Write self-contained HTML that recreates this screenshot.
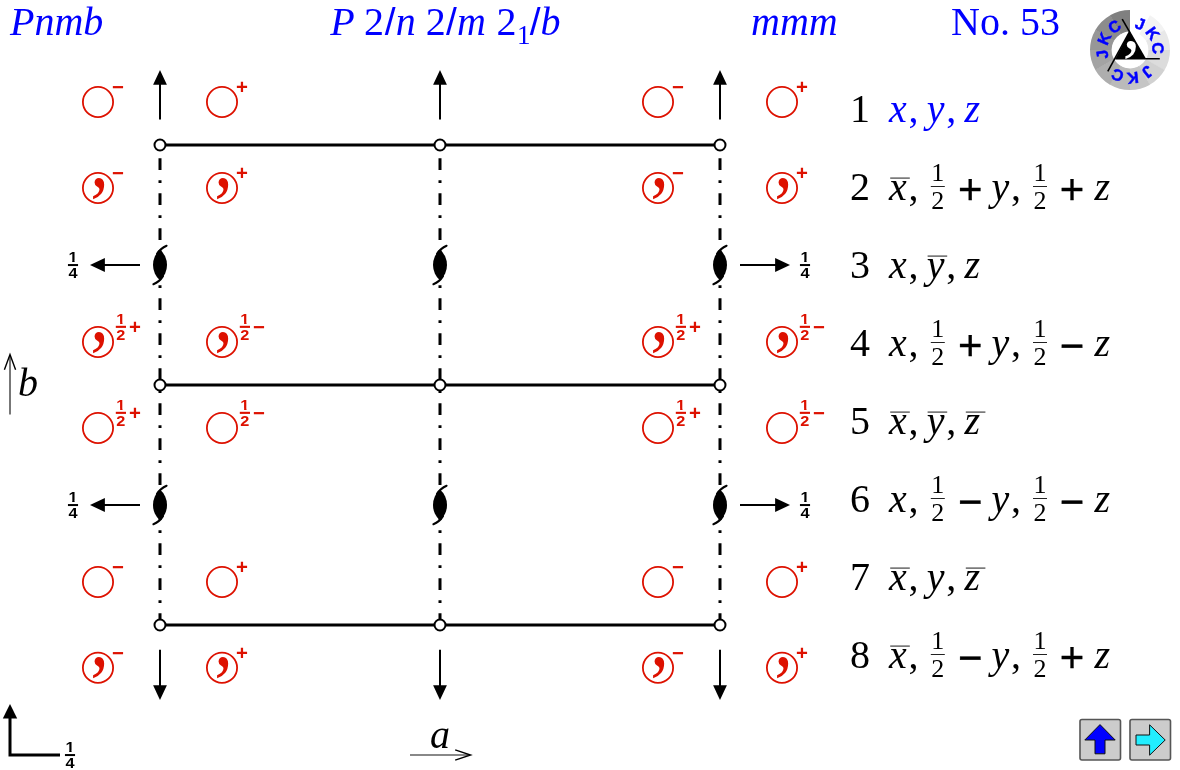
<!DOCTYPE html>
<html lang="en">
<head>
<meta charset="utf-8">
<title>Pnmb No. 53</title>
<style>
html,body{margin:0;padding:0;background:#fff;}
body{width:1180px;height:770px;overflow:hidden;position:relative;}
svg{position:absolute;left:0;top:0;display:block;}
.ti{font-family:"Liberation Serif",serif;font-style:italic;font-size:40px;}
.tr{font-family:"Liberation Serif",serif;font-style:normal;font-size:40px;}
.sl{font-family:"Liberation Sans",sans-serif;font-style:normal;font-size:39px;}
.fr{font-family:"Liberation Serif",serif;font-style:normal;font-size:26px;text-anchor:middle;}
.op{font-family:"Liberation Sans",sans-serif;font-size:42px;text-anchor:middle;stroke:#000;stroke-width:0.3px;}
.sb{font-family:"Liberation Sans",sans-serif;font-weight:bold;font-size:14.3px;text-anchor:middle;}
.rs{font-family:"Liberation Sans",sans-serif;font-weight:bold;font-size:20.4px;text-anchor:middle;fill:#d10;}
.cm{font-family:"Liberation Serif",serif;font-weight:normal;font-size:80px;text-anchor:middle;fill:#d10;}
.lg{font-family:"Liberation Sans",sans-serif;font-weight:bold;font-size:16px;text-anchor:middle;fill:#00f;stroke:#00f;stroke-width:0.5px;}
.blue{fill:#00f;}
</style>
</head>
<body>
<svg width="1180" height="770" viewBox="0 0 1180 770">
<rect width="1180" height="770" fill="#fff"/>

<g class="blue">
<text class="ti" x="10" y="35">Pnmb</text>
<text class="ti" x="330.3" y="35">P <tspan class="tr">2</tspan><tspan class="sl" dx="0.8">/</tspan>n <tspan class="tr">2</tspan><tspan class="sl" dx="0.3">/</tspan><tspan dx="0.3">m</tspan> <tspan class="tr" dx="0.6">2</tspan><tspan class="tr" style="font-size:27px" dx="0.5" dy="8.9">1</tspan><tspan class="sl" dx="-0.9" dy="-8.9">/</tspan>b</text>
<text class="ti" x="751" y="35">mmm</text>
<text class="tr" x="951" y="35">No. 53</text>
</g>
<g stroke="#000" stroke-width="3" fill="none">
<line x1="160" y1="145" x2="720" y2="145"/>
<line x1="160" y1="385" x2="720" y2="385"/>
<line x1="160" y1="625" x2="720" y2="625"/>
<line x1="160" y1="145.2" x2="160" y2="625" stroke-dasharray="2.8 10.2 11.7 10.3"/>
<line x1="440" y1="145.2" x2="440" y2="625" stroke-dasharray="2.8 10.2 11.7 10.3"/>
<line x1="720" y1="145.2" x2="720" y2="625" stroke-dasharray="2.8 10.2 11.7 10.3"/>
</g>
<g stroke="#000" stroke-width="2" fill="#fff">
<circle cx="160" cy="145" r="5.5"/>
<circle cx="440" cy="145" r="5.5"/>
<circle cx="720" cy="145" r="5.5"/>
<circle cx="160" cy="385" r="5.5"/>
<circle cx="440" cy="385" r="5.5"/>
<circle cx="720" cy="385" r="5.5"/>
<circle cx="160" cy="625" r="5.5"/>
<circle cx="440" cy="625" r="5.5"/>
<circle cx="720" cy="625" r="5.5"/>
</g>
<g stroke="#000" stroke-width="2" fill="#000">
<line x1="160" y1="119.4" x2="160" y2="84" /><path stroke="none" d="M160 70 L166.9 84.7 L153.1 84.7 Z"/>
<line x1="160" y1="649.7" x2="160" y2="686" /><path stroke="none" d="M160 700 L166.9 685.3 L153.1 685.3 Z"/>
<line x1="440" y1="119.4" x2="440" y2="84" /><path stroke="none" d="M440 70 L446.9 84.7 L433.1 84.7 Z"/>
<line x1="440" y1="649.7" x2="440" y2="686" /><path stroke="none" d="M440 700 L446.9 685.3 L433.1 685.3 Z"/>
<line x1="720" y1="119.4" x2="720" y2="84" /><path stroke="none" d="M720 70 L726.9 84.7 L713.1 84.7 Z"/>
<line x1="720" y1="649.7" x2="720" y2="686" /><path stroke="none" d="M720 700 L726.9 685.3 L713.1 685.3 Z"/>
</g>
<path fill="#000" d="M160 249.6 A20.44 20.44 0 0 1 160 280.4 A20.44 20.44 0 0 1 160 249.6 Z"/><path fill="none" stroke="#000" stroke-width="2" stroke-linecap="round" d="M157 253.90 A20.44 20.44 0 0 1 166.6 245.74"/><path fill="none" stroke="#000" stroke-width="2" stroke-linecap="round" d="M163 276.10 A20.44 20.44 0 0 1 153.4 284.26"/>
<path fill="#000" d="M440 249.6 A20.44 20.44 0 0 1 440 280.4 A20.44 20.44 0 0 1 440 249.6 Z"/><path fill="none" stroke="#000" stroke-width="2" stroke-linecap="round" d="M437 253.90 A20.44 20.44 0 0 1 446.6 245.74"/><path fill="none" stroke="#000" stroke-width="2" stroke-linecap="round" d="M443 276.10 A20.44 20.44 0 0 1 433.4 284.26"/>
<path fill="#000" d="M720 249.6 A20.44 20.44 0 0 1 720 280.4 A20.44 20.44 0 0 1 720 249.6 Z"/><path fill="none" stroke="#000" stroke-width="2" stroke-linecap="round" d="M717 253.90 A20.44 20.44 0 0 1 726.6 245.74"/><path fill="none" stroke="#000" stroke-width="2" stroke-linecap="round" d="M723 276.10 A20.44 20.44 0 0 1 713.4 284.26"/>
<path fill="#000" d="M160 489.6 A20.44 20.44 0 0 1 160 520.4 A20.44 20.44 0 0 1 160 489.6 Z"/><path fill="none" stroke="#000" stroke-width="2" stroke-linecap="round" d="M157 493.90 A20.44 20.44 0 0 1 166.6 485.74"/><path fill="none" stroke="#000" stroke-width="2" stroke-linecap="round" d="M163 516.10 A20.44 20.44 0 0 1 153.4 524.26"/>
<path fill="#000" d="M440 489.6 A20.44 20.44 0 0 1 440 520.4 A20.44 20.44 0 0 1 440 489.6 Z"/><path fill="none" stroke="#000" stroke-width="2" stroke-linecap="round" d="M437 493.90 A20.44 20.44 0 0 1 446.6 485.74"/><path fill="none" stroke="#000" stroke-width="2" stroke-linecap="round" d="M443 516.10 A20.44 20.44 0 0 1 433.4 524.26"/>
<path fill="#000" d="M720 489.6 A20.44 20.44 0 0 1 720 520.4 A20.44 20.44 0 0 1 720 489.6 Z"/><path fill="none" stroke="#000" stroke-width="2" stroke-linecap="round" d="M717 493.90 A20.44 20.44 0 0 1 726.6 485.74"/><path fill="none" stroke="#000" stroke-width="2" stroke-linecap="round" d="M723 516.10 A20.44 20.44 0 0 1 713.4 524.26"/>
<line x1="104" y1="265" x2="140" y2="265" stroke="#000" stroke-width="2"/><path d="M90 265 L104.9 258 L104.9 272 Z"/>
<text class="sb" transform="translate(73,262) scale(1.14,1)">1</text><path fill="#fff" d="M68.80 260.10h3.4v2.6h-3.4z M74.60 260.10h3.4v2.6h-3.4z"/><rect x="67.95" y="264.05" width="10.1" height="2" fill="#000"/><text class="sb" transform="translate(73,278) scale(1.14,1)">4</text>
<line x1="740" y1="265" x2="776" y2="265" stroke="#000" stroke-width="2"/><path d="M790 265 L775.1 258 L775.1 272 Z"/>
<text class="sb" transform="translate(805,262) scale(1.14,1)">1</text><path fill="#fff" d="M800.80 260.10h3.4v2.6h-3.4z M806.60 260.10h3.4v2.6h-3.4z"/><rect x="799.95" y="264.05" width="10.1" height="2" fill="#000"/><text class="sb" transform="translate(805,278) scale(1.14,1)">4</text>
<line x1="104" y1="505" x2="140" y2="505" stroke="#000" stroke-width="2"/><path d="M90 505 L104.9 498 L104.9 512 Z"/>
<text class="sb" transform="translate(73,502) scale(1.14,1)">1</text><path fill="#fff" d="M68.80 500.10h3.4v2.6h-3.4z M74.60 500.10h3.4v2.6h-3.4z"/><rect x="67.95" y="504.05" width="10.1" height="2" fill="#000"/><text class="sb" transform="translate(73,518) scale(1.14,1)">4</text>
<line x1="740" y1="505" x2="776" y2="505" stroke="#000" stroke-width="2"/><path d="M790 505 L775.1 498 L775.1 512 Z"/>
<text class="sb" transform="translate(805,502) scale(1.14,1)">1</text><path fill="#fff" d="M800.80 500.10h3.4v2.6h-3.4z M806.60 500.10h3.4v2.6h-3.4z"/><rect x="799.95" y="504.05" width="10.1" height="2" fill="#000"/><text class="sb" transform="translate(805,518) scale(1.14,1)">4</text>
<path d="M10 718 L10 755 L60 755" fill="none" stroke="#000" stroke-width="3"/><path d="M10 704 L17.2 718.6 L2.8 718.6 Z"/>
<text class="sb" transform="translate(70,752) scale(1.14,1)">1</text><path fill="#fff" d="M65.80 750.10h3.4v2.6h-3.4z M71.60 750.10h3.4v2.6h-3.4z"/><rect x="64.95" y="754.05" width="10.1" height="2" fill="#000"/><text class="sb" transform="translate(70,768) scale(1.14,1)">4</text>
<circle cx="98" cy="102" r="15.1" fill="none" stroke="#d10" stroke-width="1.8"/><text class="rs" x="118" y="93.8">−</text>
<circle cx="222" cy="102" r="15.1" fill="none" stroke="#d10" stroke-width="1.8"/><text class="rs" x="242" y="93.8">+</text>
<circle cx="658" cy="102" r="15.1" fill="none" stroke="#d10" stroke-width="1.8"/><text class="rs" x="678" y="93.8">−</text>
<circle cx="782" cy="102" r="15.1" fill="none" stroke="#d10" stroke-width="1.8"/><text class="rs" x="802" y="93.8">+</text>
<circle cx="98" cy="188" r="15.1" fill="none" stroke="#d10" stroke-width="1.8"/><text class="cm" transform="translate(99.5,186.5) scale(0.93,1.04)">,</text><text class="rs" x="118" y="179.8">−</text>
<circle cx="222" cy="188" r="15.1" fill="none" stroke="#d10" stroke-width="1.8"/><text class="cm" transform="translate(223.5,186.5) scale(0.93,1.04)">,</text><text class="rs" x="242" y="179.8">+</text>
<circle cx="658" cy="188" r="15.1" fill="none" stroke="#d10" stroke-width="1.8"/><text class="cm" transform="translate(659.5,186.5) scale(0.93,1.04)">,</text><text class="rs" x="678" y="179.8">−</text>
<circle cx="782" cy="188" r="15.1" fill="none" stroke="#d10" stroke-width="1.8"/><text class="cm" transform="translate(783.5,186.5) scale(0.93,1.04)">,</text><text class="rs" x="802" y="179.8">+</text>
<circle cx="98" cy="342" r="15.1" fill="none" stroke="#d10" stroke-width="1.8"/><text class="cm" transform="translate(99.5,340.5) scale(0.93,1.04)">,</text><text class="sb" style="fill:#d10" transform="translate(120.9,324) scale(1.14,1)">1</text><path fill="#fff" d="M116.70 322.10h3.4v2.6h-3.4z M122.50 322.10h3.4v2.6h-3.4z"/><rect x="115.80000000000001" y="325.8" width="10.2" height="2.1" fill="#d10"/><text class="sb" style="fill:#d10" transform="translate(120.9,339.8) scale(1.14,1)">2</text><text class="rs" x="135" y="333.8">+</text>
<circle cx="222" cy="342" r="15.1" fill="none" stroke="#d10" stroke-width="1.8"/><text class="cm" transform="translate(223.5,340.5) scale(0.93,1.04)">,</text><text class="sb" style="fill:#d10" transform="translate(244.9,324) scale(1.14,1)">1</text><path fill="#fff" d="M240.70 322.10h3.4v2.6h-3.4z M246.50 322.10h3.4v2.6h-3.4z"/><rect x="239.8" y="325.8" width="10.2" height="2.1" fill="#d10"/><text class="sb" style="fill:#d10" transform="translate(244.9,339.8) scale(1.14,1)">2</text><text class="rs" x="259" y="333.8">−</text>
<circle cx="658" cy="342" r="15.1" fill="none" stroke="#d10" stroke-width="1.8"/><text class="cm" transform="translate(659.5,340.5) scale(0.93,1.04)">,</text><text class="sb" style="fill:#d10" transform="translate(680.9,324) scale(1.14,1)">1</text><path fill="#fff" d="M676.70 322.10h3.4v2.6h-3.4z M682.50 322.10h3.4v2.6h-3.4z"/><rect x="675.8" y="325.8" width="10.2" height="2.1" fill="#d10"/><text class="sb" style="fill:#d10" transform="translate(680.9,339.8) scale(1.14,1)">2</text><text class="rs" x="695" y="333.8">+</text>
<circle cx="782" cy="342" r="15.1" fill="none" stroke="#d10" stroke-width="1.8"/><text class="cm" transform="translate(783.5,340.5) scale(0.93,1.04)">,</text><text class="sb" style="fill:#d10" transform="translate(804.9,324) scale(1.14,1)">1</text><path fill="#fff" d="M800.70 322.10h3.4v2.6h-3.4z M806.50 322.10h3.4v2.6h-3.4z"/><rect x="799.8" y="325.8" width="10.2" height="2.1" fill="#d10"/><text class="sb" style="fill:#d10" transform="translate(804.9,339.8) scale(1.14,1)">2</text><text class="rs" x="819" y="333.8">−</text>
<circle cx="98" cy="428" r="15.1" fill="none" stroke="#d10" stroke-width="1.8"/><text class="sb" style="fill:#d10" transform="translate(120.9,410) scale(1.14,1)">1</text><path fill="#fff" d="M116.70 408.10h3.4v2.6h-3.4z M122.50 408.10h3.4v2.6h-3.4z"/><rect x="115.80000000000001" y="411.8" width="10.2" height="2.1" fill="#d10"/><text class="sb" style="fill:#d10" transform="translate(120.9,425.8) scale(1.14,1)">2</text><text class="rs" x="135" y="419.8">+</text>
<circle cx="222" cy="428" r="15.1" fill="none" stroke="#d10" stroke-width="1.8"/><text class="sb" style="fill:#d10" transform="translate(244.9,410) scale(1.14,1)">1</text><path fill="#fff" d="M240.70 408.10h3.4v2.6h-3.4z M246.50 408.10h3.4v2.6h-3.4z"/><rect x="239.8" y="411.8" width="10.2" height="2.1" fill="#d10"/><text class="sb" style="fill:#d10" transform="translate(244.9,425.8) scale(1.14,1)">2</text><text class="rs" x="259" y="419.8">−</text>
<circle cx="658" cy="428" r="15.1" fill="none" stroke="#d10" stroke-width="1.8"/><text class="sb" style="fill:#d10" transform="translate(680.9,410) scale(1.14,1)">1</text><path fill="#fff" d="M676.70 408.10h3.4v2.6h-3.4z M682.50 408.10h3.4v2.6h-3.4z"/><rect x="675.8" y="411.8" width="10.2" height="2.1" fill="#d10"/><text class="sb" style="fill:#d10" transform="translate(680.9,425.8) scale(1.14,1)">2</text><text class="rs" x="695" y="419.8">+</text>
<circle cx="782" cy="428" r="15.1" fill="none" stroke="#d10" stroke-width="1.8"/><text class="sb" style="fill:#d10" transform="translate(804.9,410) scale(1.14,1)">1</text><path fill="#fff" d="M800.70 408.10h3.4v2.6h-3.4z M806.50 408.10h3.4v2.6h-3.4z"/><rect x="799.8" y="411.8" width="10.2" height="2.1" fill="#d10"/><text class="sb" style="fill:#d10" transform="translate(804.9,425.8) scale(1.14,1)">2</text><text class="rs" x="819" y="419.8">−</text>
<circle cx="98" cy="582" r="15.1" fill="none" stroke="#d10" stroke-width="1.8"/><text class="rs" x="118" y="573.8">−</text>
<circle cx="222" cy="582" r="15.1" fill="none" stroke="#d10" stroke-width="1.8"/><text class="rs" x="242" y="573.8">+</text>
<circle cx="658" cy="582" r="15.1" fill="none" stroke="#d10" stroke-width="1.8"/><text class="rs" x="678" y="573.8">−</text>
<circle cx="782" cy="582" r="15.1" fill="none" stroke="#d10" stroke-width="1.8"/><text class="rs" x="802" y="573.8">+</text>
<circle cx="98" cy="667.8" r="15.1" fill="none" stroke="#d10" stroke-width="1.8"/><text class="cm" transform="translate(99.5,666.3) scale(0.93,1.04)">,</text><text class="rs" x="118" y="659.5999999999999">−</text>
<circle cx="222" cy="667.8" r="15.1" fill="none" stroke="#d10" stroke-width="1.8"/><text class="cm" transform="translate(223.5,666.3) scale(0.93,1.04)">,</text><text class="rs" x="242" y="659.5999999999999">+</text>
<circle cx="658" cy="667.8" r="15.1" fill="none" stroke="#d10" stroke-width="1.8"/><text class="cm" transform="translate(659.5,666.3) scale(0.93,1.04)">,</text><text class="rs" x="678" y="659.5999999999999">−</text>
<circle cx="782" cy="667.8" r="15.1" fill="none" stroke="#d10" stroke-width="1.8"/><text class="cm" transform="translate(783.5,666.3) scale(0.93,1.04)">,</text><text class="rs" x="802" y="659.5999999999999">+</text>
<line x1="10" y1="355" x2="10" y2="414.6" stroke="#555" stroke-width="1.6"/><path d="M4.4 369.8 L10 354.5 L15.6 369.8" fill="none" stroke="#000" stroke-width="1.4"/>
<text class="ti" x="18" y="395.6">b</text>
<line x1="410" y1="755" x2="469.5" y2="755" stroke="#606060" stroke-width="1.7"/><path d="M455.2 749.8 L470.6 755 L455.2 760.2" fill="none" stroke="#000" stroke-width="1.4"/>
<text class="ti" x="430" y="748">a</text>
<text class="tr" x="850" y="122">1</text>
<g class="blue">
<text class="ti" x="889" y="122">x<tspan class="tr" dx="1.8">,</tspan><tspan dx="-1.8"> y</tspan><tspan class="tr" dx="1.8">,</tspan><tspan dx="-1.8"> z</tspan></text>
</g>
<text class="tr" x="850" y="200">2</text>
<g>
<text class="ti" x="889" y="200">x<tspan class="tr" dx="1.8">,</tspan></text>
<rect x="890.2" y="177.45" width="19.6" height="1.3" fill="#505050"/>
<text class="fr" x="937.8" y="181.2">1</text><rect x="930.8" y="186" width="14" height="1" fill="#222"/><text class="fr" x="937.8" y="209">2</text>
<text class="op" x="970.2" y="203.7">+</text>
<text class="ti" x="991.5" y="200">y<tspan class="tr" dx="1.8">,</tspan></text>
<text class="fr" x="1040" y="181.2">1</text><rect x="1033" y="186" width="14" height="1" fill="#222"/><text class="fr" x="1040" y="209">2</text>
<text class="op" x="1072" y="203.7">+</text>
<text class="ti" x="1094.5" y="200">z</text>
</g>
<text class="tr" x="850" y="278">3</text>
<g>
<text class="ti" x="889" y="278">x<tspan class="tr" dx="1.8">,</tspan><tspan dx="-1.8"> y</tspan><tspan class="tr" dx="1.8">,</tspan><tspan dx="-1.8"> z</tspan></text>
<rect x="927.6" y="255.45000000000002" width="19.6" height="1.3" fill="#505050"/>
</g>
<text class="tr" x="850" y="356">4</text>
<g>
<text class="ti" x="889" y="356">x<tspan class="tr" dx="1.8">,</tspan></text>
<text class="fr" x="937.8" y="337.2">1</text><rect x="930.8" y="342" width="14" height="1" fill="#222"/><text class="fr" x="937.8" y="365">2</text>
<text class="op" x="970.2" y="359.7">+</text>
<text class="ti" x="991.5" y="356">y<tspan class="tr" dx="1.8">,</tspan></text>
<text class="fr" x="1040" y="337.2">1</text><rect x="1033" y="342" width="14" height="1" fill="#222"/><text class="fr" x="1040" y="365">2</text>
<text class="op" x="1072" y="359.7">−</text>
<text class="ti" x="1094.5" y="356">z</text>
</g>
<text class="tr" x="850" y="434">5</text>
<g>
<text class="ti" x="889" y="434">x<tspan class="tr" dx="1.8">,</tspan><tspan dx="-1.8"> y</tspan><tspan class="tr" dx="1.8">,</tspan><tspan dx="-1.8"> z</tspan></text>
<rect x="890.2" y="411.45000000000005" width="19.6" height="1.3" fill="#505050"/>
<rect x="927.6" y="411.45000000000005" width="19.6" height="1.3" fill="#505050"/>
<rect x="965.8" y="411.45000000000005" width="19.6" height="1.3" fill="#505050"/>
</g>
<text class="tr" x="850" y="512">6</text>
<g>
<text class="ti" x="889" y="512">x<tspan class="tr" dx="1.8">,</tspan></text>
<text class="fr" x="937.8" y="493.2">1</text><rect x="930.8" y="498" width="14" height="1" fill="#222"/><text class="fr" x="937.8" y="521">2</text>
<text class="op" x="970.2" y="515.7">−</text>
<text class="ti" x="991.5" y="512">y<tspan class="tr" dx="1.8">,</tspan></text>
<text class="fr" x="1040" y="493.2">1</text><rect x="1033" y="498" width="14" height="1" fill="#222"/><text class="fr" x="1040" y="521">2</text>
<text class="op" x="1072" y="515.7">−</text>
<text class="ti" x="1094.5" y="512">z</text>
</g>
<text class="tr" x="850" y="590">7</text>
<g>
<text class="ti" x="889" y="590">x<tspan class="tr" dx="1.8">,</tspan><tspan dx="-1.8"> y</tspan><tspan class="tr" dx="1.8">,</tspan><tspan dx="-1.8"> z</tspan></text>
<rect x="890.2" y="567.45" width="19.6" height="1.3" fill="#505050"/>
<rect x="965.8" y="567.45" width="19.6" height="1.3" fill="#505050"/>
</g>
<text class="tr" x="850" y="668">8</text>
<g>
<text class="ti" x="889" y="668">x<tspan class="tr" dx="1.8">,</tspan></text>
<rect x="890.2" y="645.45" width="19.6" height="1.3" fill="#505050"/>
<text class="fr" x="937.8" y="649.2">1</text><rect x="930.8" y="654" width="14" height="1" fill="#222"/><text class="fr" x="937.8" y="677">2</text>
<text class="op" x="970.2" y="671.7">−</text>
<text class="ti" x="991.5" y="668">y<tspan class="tr" dx="1.8">,</tspan></text>
<text class="fr" x="1040" y="649.2">1</text><rect x="1033" y="654" width="14" height="1" fill="#222"/><text class="fr" x="1040" y="677">2</text>
<text class="op" x="1072" y="671.7">+</text>
<text class="ti" x="1094.5" y="668">z</text>
</g>
<g>
<path fill="rgb(255,255,255)" d="M1130.00 10.00 A40 40 0 0 1 1150.35 15.56 L1139.16 34.50 A18 18 0 0 0 1130.00 32.00 Z"/>
<path fill="rgb(243,243,243)" d="M1150.00 15.36 A40 40 0 0 1 1164.84 30.35 L1145.68 41.16 A18 18 0 0 0 1139.00 34.41 Z"/>
<path fill="rgb(232,232,232)" d="M1164.64 30.00 A40 40 0 0 1 1170.00 50.40 L1148.00 50.18 A18 18 0 0 0 1145.59 41.00 Z"/>
<path fill="rgb(220,220,220)" d="M1170.00 50.00 A40 40 0 0 1 1164.44 70.35 L1145.50 59.16 A18 18 0 0 0 1148.00 50.00 Z"/>
<path fill="rgb(209,209,209)" d="M1164.64 70.00 A40 40 0 0 1 1149.65 84.84 L1138.84 65.68 A18 18 0 0 0 1145.59 59.00 Z"/>
<path fill="rgb(197,197,197)" d="M1150.00 84.64 A40 40 0 0 1 1129.60 90.00 L1129.82 68.00 A18 18 0 0 0 1139.00 65.59 Z"/>
<path fill="rgb(186,186,186)" d="M1130.00 90.00 A40 40 0 0 1 1109.65 84.44 L1120.84 65.50 A18 18 0 0 0 1130.00 68.00 Z"/>
<path fill="rgb(174,174,174)" d="M1110.00 84.64 A40 40 0 0 1 1095.16 69.65 L1114.32 58.84 A18 18 0 0 0 1121.00 65.59 Z"/>
<path fill="rgb(163,163,163)" d="M1095.36 70.00 A40 40 0 0 1 1090.00 49.60 L1112.00 49.82 A18 18 0 0 0 1114.41 59.00 Z"/>
<path fill="rgb(151,151,151)" d="M1090.00 50.00 A40 40 0 0 1 1095.56 29.65 L1114.50 40.84 A18 18 0 0 0 1112.00 50.00 Z"/>
<path fill="rgb(140,140,140)" d="M1095.36 30.00 A40 40 0 0 1 1110.35 15.16 L1121.16 34.32 A18 18 0 0 0 1114.41 41.00 Z"/>
<path fill="rgb(128,128,128)" d="M1110.00 15.36 A40 40 0 0 1 1130.00 10.00 L1130.00 32.00 A18 18 0 0 0 1121.00 34.41 Z"/>
</g>
<circle cx="1130" cy="50" r="18.4" fill="#fff"/>
<path d="M1129.6 31.6 L1145.2 58.8 L1115.4 58.8 Z" fill="#000"/>
<g stroke="#000" stroke-width="1.6" stroke-linecap="butt"><line x1="1115.4" y1="58.8" x2="1159.8" y2="58.8"/><line x1="1145.2" y1="58.8" x2="1122.2" y2="19.2"/><line x1="1129.6" y1="31.6" x2="1107.8" y2="71.4"/></g>
<text x="1131.5" y="47.8" style="font-family:'Liberation Serif',serif;font-size:70px;fill:#fff;text-anchor:middle">,</text>
<text class="lg" transform="translate(1130,50) rotate(21)" x="0" y="-22.5">J</text>
<text class="lg" transform="translate(1130,50) rotate(54)" x="0" y="-22.5">K</text>
<text class="lg" transform="translate(1130,50) rotate(86)" x="0" y="-22.5">C</text>
<text class="lg" transform="translate(1130,50) rotate(141)" x="0" y="-22.5">J</text>
<text class="lg" transform="translate(1130,50) rotate(174)" x="0" y="-22.5">K</text>
<text class="lg" transform="translate(1130,50) rotate(206)" x="0" y="-22.5">C</text>
<text class="lg" transform="translate(1130,50) rotate(261)" x="0" y="-22.5">J</text>
<text class="lg" transform="translate(1130,50) rotate(294)" x="0" y="-22.5">K</text>
<text class="lg" transform="translate(1130,50) rotate(326)" x="0" y="-22.5">C</text>
<rect x="1080" y="719.5" width="40.5" height="40.5" rx="2" fill="#ccc" stroke="#555" stroke-width="1.6"/>
<path d="M1100 724.6 L1115.2 740 L1105 740 L1105 753.8 L1095 753.8 L1095 740 L1084.8 740 Z" fill="#00f" stroke="#111" stroke-width="1"/>
<rect x="1130" y="719.5" width="40.5" height="40.5" rx="2" fill="#ccc" stroke="#555" stroke-width="1.6"/>
<path d="M1165.2 740 L1149.6 755.2 L1149.6 745 L1136 745 L1136 735 L1149.6 735 L1149.6 724.8 Z" fill="#2ef" stroke="#111" stroke-width="1"/>
</svg>
</body>
</html>
